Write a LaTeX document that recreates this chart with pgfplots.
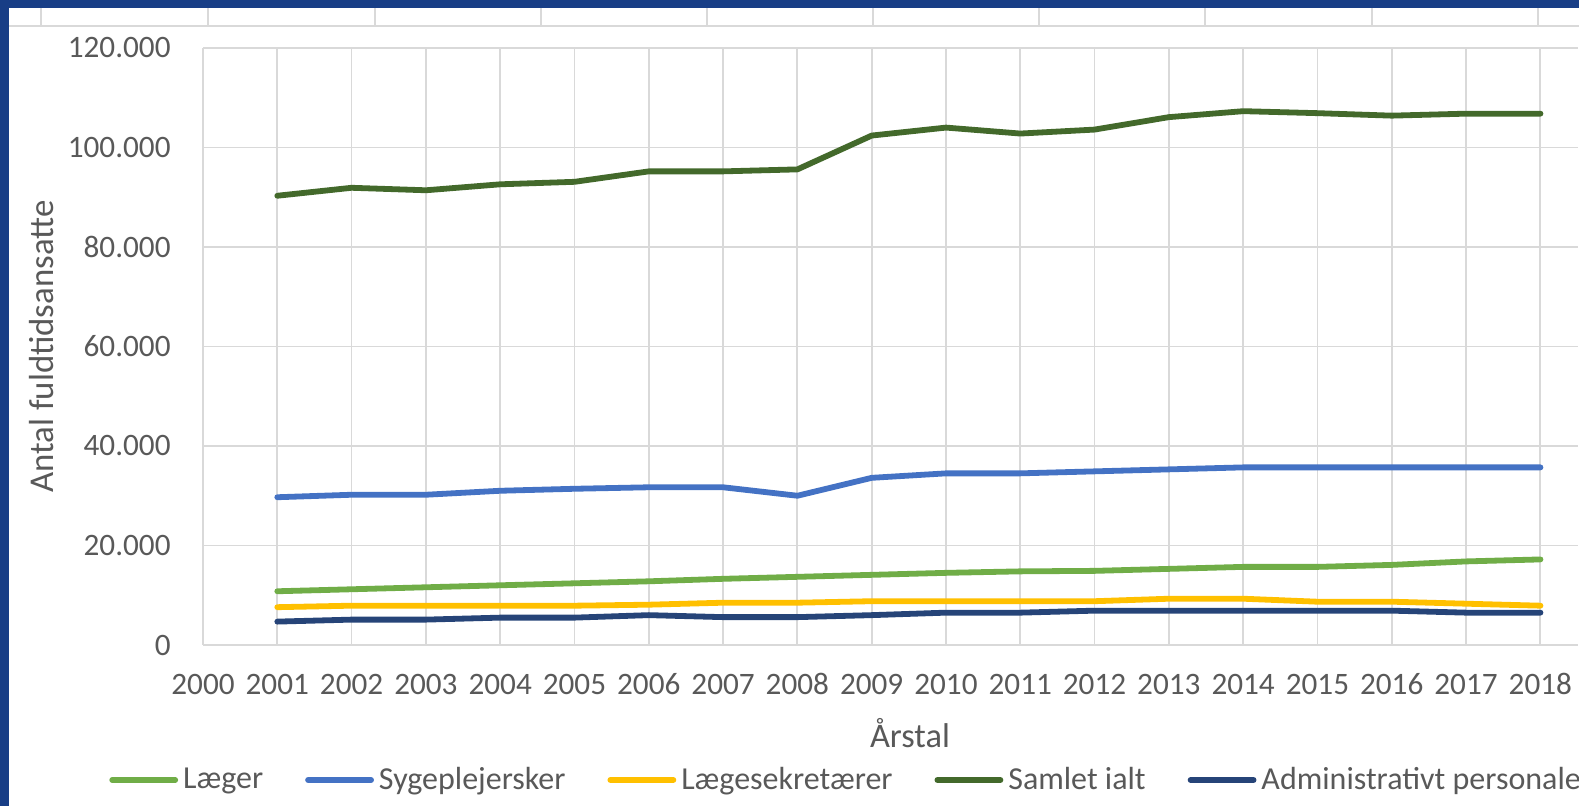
\documentclass[border=0pt]{standalone}
\usepackage{pgfplots}
\pgfplotsset{compat=1.18}
\usepackage{fontspec}
\setmainfont{Carlito}
\definecolor{txt}{HTML}{595959}
\definecolor{gridc}{HTML}{D9D9D9}
\definecolor{frameblue}{RGB}{24,62,134}
\definecolor{cLaeger}{HTML}{70AD47}
\definecolor{cSyge}{HTML}{4472C4}
\definecolor{cSekr}{HTML}{FFC000}
\definecolor{cSamlet}{HTML}{43692B}
\definecolor{cAdmin}{HTML}{264478}
\begin{document}
\begin{tikzpicture}
% page background and spreadsheet frame (px units, y from bottom)
\begin{scope}[x=0.5pt,y=0.5pt]
\fill[white] (0,0) rectangle (1579,806);
\foreach \xx in {41,208,375,541,707,873,1039,1205,1372,1538}{
  \draw[gridc,line width=1pt] (\xx,797.5) -- (\xx,780);}
\draw[gridc,line width=1.2pt] (8.5,780) -- (1579,780);
\fill[frameblue] (0,797.5) rectangle (1579,806);
\fill[frameblue] (0,0) rectangle (8.5,806);
\end{scope}
\begin{axis}[
  at={(101.5pt,80.5pt)}, anchor=south west,
  scale only axis, width=687.3pt, height=298.5pt,
  xmin=2000, xmax=2018.5, ymin=0, ymax=120000,
  xtick={2000,...,2018}, ytick={0,20000,...,120000},
  scaled ticks=false,
  axis line style={draw=none},
  major tick length=0pt,
  grid=major, grid style={gridc,line width=0.9pt},
  /pgf/number format/assume math mode=true,
  /pgf/number format/fixed,
  /pgf/number format/precision=0,
  yticklabel style={/pgf/number format/.cd,fixed,precision=0,1000 sep={.},/tikz/.cd,
    anchor=east, inner sep=0pt, xshift=-16pt, text=txt,
    font=\fontsize{15.6}{18}\selectfont},
  xticklabel style={/pgf/number format/.cd,fixed,precision=0,1000 sep={},/tikz/.cd,
    anchor=base, inner sep=0pt, yshift=-25pt, text=txt,
    font=\fontsize{15.6}{18}\selectfont},
  xlabel={Årstal},
  xlabel style={at={(axis description cs:0.5143,-0.1709)}, anchor=base,
    text=txt, font=\fontsize{17.2}{20}\selectfont, inner sep=0pt},
  ylabel={Antal fuldtidsansatte},
  ylabel style={at={(axis description cs:-0.1091,0.5)}, anchor=base,
    text=txt, font=\fontsize{17.4}{20}\selectfont, inner sep=0pt},
  legend columns=5,
  legend style={at={(axis description cs:0.4671,-0.2261)}, anchor=center,
    draw=none, fill=none, inner sep=0pt,
    font=\fontsize{16}{18}\selectfont, text=txt,
    nodes={inner sep=0pt},
    /tikz/every odd column/.append style={column sep=2.5pt},
    /tikz/every even column/.append style={column sep=21pt}},
  legend image code/.code={\draw[#1,line cap=round] (0pt,0pt) -- (31.5pt,0pt);},
  every axis plot/.append style={line width=2.9pt, line join=round, line cap=round},
]
\addplot[cLaeger] coordinates {
(2001,10800)(2002,11200)(2003,11600)(2004,12000)(2005,12400)(2006,12800)
(2007,13300)(2008,13700)(2009,14100)(2010,14500)(2011,14800)(2012,14900)
(2013,15300)(2014,15700)(2015,15700)(2016,16100)(2017,16800)(2018,17200)};
\addlegendentry{Læger}
\addplot[cSyge] coordinates {
(2001,29700)(2002,30200)(2003,30200)(2004,31000)(2005,31400)(2006,31700)
(2007,31700)(2008,30000)(2009,33600)(2010,34500)(2011,34500)(2012,34900)
(2013,35300)(2014,35700)(2015,35700)(2016,35700)(2017,35700)(2018,35700)};
\addlegendentry{Sygeplejersker}
\addplot[cSekr] coordinates {
(2001,7600)(2002,7900)(2003,7900)(2004,7900)(2005,7900)(2006,8100)
(2007,8500)(2008,8500)(2009,8800)(2010,8800)(2011,8800)(2012,8800)
(2013,9300)(2014,9300)(2015,8700)(2016,8700)(2017,8300)(2018,7900)};
\addlegendentry{Lægesekretærer}
\addplot[cSamlet] coordinates {
(2001,90300)(2002,91900)(2003,91400)(2004,92600)(2005,93100)(2006,95200)
(2007,95200)(2008,95600)(2009,102400)(2010,104000)(2011,102800)(2012,103600)
(2013,106100)(2014,107300)(2015,106900)(2016,106400)(2017,106800)(2018,106800)};
\addlegendentry{Samlet ialt}
\addplot[cAdmin] coordinates {
(2001,4700)(2002,5100)(2003,5100)(2004,5500)(2005,5500)(2006,6000)
(2007,5600)(2008,5600)(2009,6000)(2010,6500)(2011,6500)(2012,6900)
(2013,6900)(2014,6900)(2015,6900)(2016,6900)(2017,6500)(2018,6500)};
\addlegendentry{Administrativt personale}
\end{axis}
\pgfresetboundingbox
\path[use as bounding box] (0,0) rectangle (789.5pt,403pt);
\end{tikzpicture}
\end{document}
